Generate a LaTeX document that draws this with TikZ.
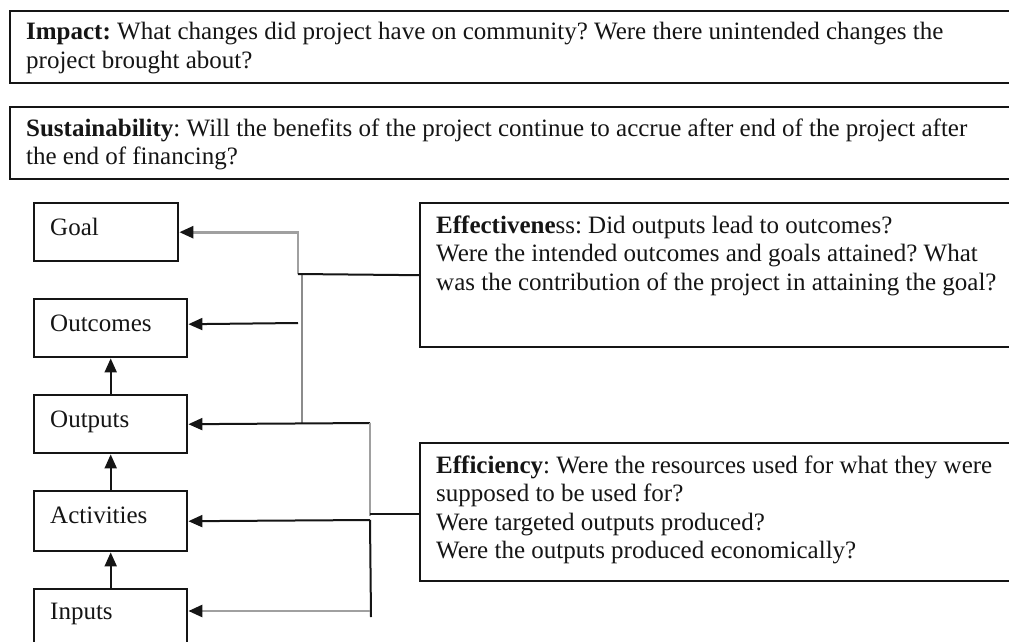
\documentclass[tikz,border=0pt]{standalone}
\usepackage{fontspec}
\setmainfont{Liberation Serif}
\usetikzlibrary{arrows.meta}
\frenchspacing
\definecolor{ink}{HTML}{151515}
\definecolor{wire}{HTML}{A0A0A0}
\definecolor{wiredk}{HTML}{8C8C8C}
\tikzset{
  frame/.style={draw=ink, line width=2.4pt, inner sep=0pt, anchor=north west},
  txt/.style={inner sep=0pt, anchor=base west, text=ink,
              font=\fontsize{25}{28.5}\selectfont},
  blk/.style={draw=ink, line width=2pt},
  gry/.style={draw=wire, line width=2.6pt},
  head/.style={-{Triangle[length=14pt,width=12pt,color=ink]}},
}
\begin{document}
\begin{tikzpicture}[x=1pt,y=1pt]
\useasboundingbox (0,0) rectangle (1009,-642);
\clip (0,0) rectangle (1009,-642);
\fill[white] (0,0) rectangle (1009,-642);

% evaluation questions across the top
\node[frame, minimum width=1040, minimum height=72] (impact) at (9,-10) {};
\node[txt] (impactT) at ([xshift=17,yshift=-30]impact.north west)
  {\parbox[t]{1000pt}{\textbf{Impact:} What changes did project have on community? Were there unintended changes the\\project brought about?}};

\node[frame, minimum width=1040, minimum height=72] (sustain) at (9,-106) {};
\node[txt] (sustainT) at ([xshift=17,yshift=-30]sustain.north west)
  {\parbox[t]{1000pt}{\textbf{Sustainability}: Will the benefits of the project continue to accrue after end of the project after\\the end of financing?}};

% results chain
\node[frame, minimum width=144, minimum height=58] (goal) at (33,-202) {};
\node[txt] (goalT) at ([xshift=17,yshift=-33]goal.north west) {Goal};
\node[frame, minimum width=153, minimum height=58] (outcomes) at (33,-298) {};
\node[txt] (outcomesT) at ([xshift=17,yshift=-33]outcomes.north west) {Outcomes};
\node[frame, minimum width=153, minimum height=58] (outputs) at (33,-394) {};
\node[txt] (outputsT) at ([xshift=17,yshift=-33]outputs.north west) {Outputs};
\node[frame, minimum width=153, minimum height=60] (activities) at (33,-490) {};
\node[txt] (activitiesT) at ([xshift=17,yshift=-33]activities.north west) {Activities};
\node[frame, minimum width=153, minimum height=80] (inputs) at (33,-588) {};
\node[txt] (inputsT) at ([xshift=17,yshift=-31]inputs.north west) {Inputs};

% criteria boxes on the right
\node[frame, minimum width=620, minimum height=144] (effect) at (419,-202) {};
\node[txt] (effectT) at ([xshift=17,yshift=-31]effect.north west)
  {\parbox[t]{580pt}{\textbf{Effectivene}ss: Did outputs lead to outcomes?\\Were the intended outcomes and goals attained? What\\was the contribution of the project in attaining the goal?}};

\node[frame, minimum width=620, minimum height=138] (effic) at (419,-442) {};
\node[txt] (efficT) at ([xshift=17,yshift=-31]effic.north west)
  {\parbox[t]{580pt}{\textbf{Efficiency}: Were the resources used for what they were\\supposed to be used for?\\Were targeted outputs produced?\\Were the outputs produced economically?}};

% chain arrows
\draw[blk, head] (outputs.north) -- (outcomes.south);
\draw[blk, head] (activities.north) -- (outputs.south);
\draw[blk, head] (inputs.north) -- (activities.south);

% effectiveness bracket
\coordinate (gA) at (298,-274);
\coordinate (gB) at (302,-274);
\coordinate (gC) at (302,-423);
\coordinate (gD) at (298,-323);
\draw[gry, head] (gA) |- (goal.east);
\draw[gry, draw=wiredk] (gB) -- (gC);
\draw[blk] (gA) -- (effect.west);
\draw[blk, head] (gD) -- ([yshift=4pt]outcomes.east);

% efficiency bracket
\coordinate (hA) at (370,-423);
\coordinate (hB) at (370,-516);
\coordinate (hC) at (370,-514);
\coordinate (hD) at (370,-520);
\coordinate (hE) at (371,-617);
\coordinate (hF) at (370,-611);
\draw[blk, head] (hA) -- (outputs.east);
\draw[gry] (hA) -- (hB);
\draw[blk] (hC) -- (effic.west |- hC);
\draw[blk, head] (hD) -- (activities.east);
\draw[blk] (hD) -- (hE);
\draw[gry, head] (hF) -- (inputs.east |- hF);
\end{tikzpicture}
\end{document}
